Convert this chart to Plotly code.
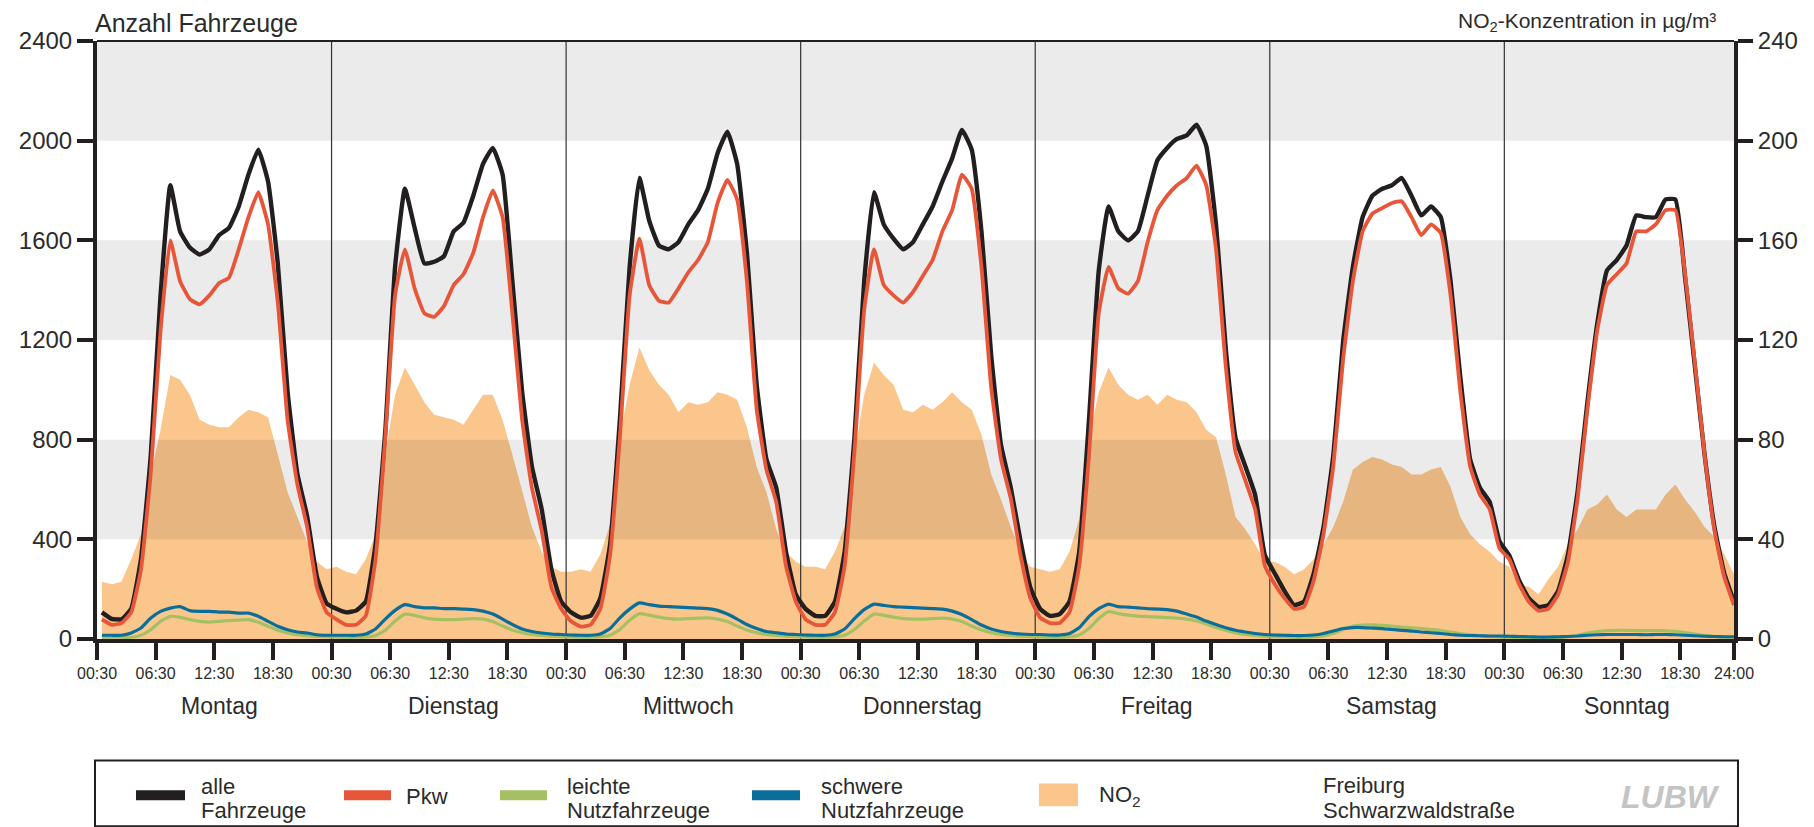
import plotly.graph_objects as go

# ---------------- data (hourly values, 01:00 ... 24:00 per day) ----------------
days = ["Montag", "Dienstag", "Mittwoch", "Donnerstag", "Freitag", "Samstag", "Sonntag"]
hours = list(range(1, 25))
tick_times = ["00:30", "06:30", "12:30", "18:30"]
tick_offsets = [0.5, 6.5, 12.5, 18.5]
end_label = "24:00"

alle = [
    [107, 81, 79, 121, 321, 736, 1379, 1821, 1636, 1571, 1543, 1564, 1621, 1650, 1736, 1864, 1964, 1836, 1507, 993, 664, 493, 250, 143],
    [121, 107, 114, 150, 379, 836, 1493, 1807, 1650, 1507, 1514, 1536, 1636, 1671, 1779, 1907, 1971, 1864, 1436, 993, 693, 521, 279, 150],
    [107, 86, 93, 164, 379, 879, 1493, 1850, 1679, 1579, 1564, 1593, 1664, 1721, 1807, 1950, 2036, 1907, 1550, 1021, 721, 607, 350, 179],
    [121, 93, 93, 150, 350, 807, 1436, 1793, 1664, 1607, 1564, 1593, 1664, 1736, 1836, 1929, 2043, 1964, 1636, 1136, 779, 607, 393, 207],
    [121, 93, 100, 150, 350, 879, 1479, 1736, 1636, 1600, 1636, 1779, 1921, 1971, 2007, 2021, 2064, 1979, 1664, 1164, 807, 693, 579, 336],
    [264, 193, 136, 150, 264, 450, 736, 1193, 1493, 1693, 1779, 1807, 1821, 1850, 1779, 1700, 1736, 1693, 1436, 1050, 721, 607, 550, 393],
    [336, 236, 164, 129, 136, 193, 336, 593, 950, 1264, 1479, 1521, 1579, 1700, 1693, 1693, 1764, 1764, 1450, 1093, 736, 450, 264, 150],
]
pkw = [
    [79, 57, 64, 107, 279, 664, 1236, 1600, 1436, 1364, 1343, 1379, 1429, 1450, 1564, 1693, 1793, 1664, 1350, 879, 621, 450, 207, 107],
    [79, 57, 57, 93, 321, 807, 1379, 1564, 1407, 1307, 1293, 1336, 1421, 1464, 1550, 1693, 1800, 1693, 1307, 879, 607, 436, 207, 121],
    [71, 50, 57, 121, 336, 807, 1379, 1607, 1421, 1357, 1350, 1407, 1471, 1521, 1593, 1750, 1843, 1764, 1436, 921, 679, 550, 293, 150],
    [79, 57, 57, 107, 293, 750, 1321, 1564, 1421, 1379, 1350, 1393, 1457, 1521, 1636, 1721, 1864, 1807, 1493, 1007, 721, 564, 336, 164],
    [86, 64, 64, 107, 293, 736, 1307, 1493, 1407, 1386, 1436, 1593, 1721, 1779, 1821, 1850, 1900, 1821, 1564, 1093, 750, 636, 521, 293],
    [221, 164, 121, 129, 236, 421, 693, 1121, 1436, 1636, 1707, 1729, 1750, 1757, 1693, 1621, 1664, 1629, 1379, 993, 693, 579, 521, 364],
    [321, 221, 150, 114, 121, 179, 307, 564, 921, 1236, 1421, 1464, 1507, 1636, 1636, 1664, 1721, 1721, 1464, 1107, 736, 436, 250, 136],
]
leichte_nfz = [
    [7, 7, 7, 7, 15, 37, 71, 91, 87, 78, 71, 68, 71, 74, 76, 78, 67, 51, 35, 24, 17, 13, 11, 9],
    [8, 7, 7, 8, 14, 35, 72, 100, 95, 85, 80, 78, 78, 80, 82, 80, 70, 52, 36, 25, 18, 14, 11, 9],
    [8, 7, 7, 9, 15, 38, 75, 102, 96, 88, 82, 80, 82, 84, 85, 80, 70, 52, 36, 25, 18, 14, 11, 9],
    [8, 7, 7, 9, 15, 38, 72, 100, 95, 88, 82, 80, 80, 82, 84, 80, 70, 52, 36, 25, 18, 14, 11, 9],
    [8, 7, 7, 9, 16, 42, 82, 110, 102, 96, 92, 90, 88, 86, 84, 80, 72, 60, 46, 34, 24, 18, 14, 10],
    [9, 8, 7, 7, 8, 12, 22, 38, 52, 56, 57, 55, 52, 48, 45, 42, 38, 34, 28, 22, 17, 13, 10, 8],
    [7, 6, 6, 5, 5, 6, 9, 15, 24, 30, 34, 35, 35, 34, 34, 34, 33, 31, 26, 20, 14, 10, 8, 7],
]
schwere_nfz = [
    [15, 15, 15, 24, 44, 84, 111, 124, 130, 114, 111, 111, 108, 108, 104, 104, 91, 71, 51, 37, 28, 24, 17, 15],
    [15, 15, 15, 20, 40, 80, 115, 138, 130, 125, 125, 122, 122, 120, 118, 112, 100, 80, 58, 40, 30, 24, 20, 18],
    [16, 15, 15, 20, 42, 85, 120, 145, 138, 132, 130, 128, 126, 124, 122, 115, 100, 80, 58, 42, 30, 25, 20, 18],
    [16, 15, 15, 20, 40, 82, 118, 140, 135, 130, 128, 126, 124, 122, 120, 112, 98, 78, 56, 40, 30, 24, 20, 18],
    [18, 16, 16, 22, 45, 90, 122, 140, 130, 128, 125, 122, 120, 118, 112, 100, 88, 72, 58, 45, 35, 28, 22, 18],
    [16, 15, 14, 14, 16, 22, 32, 42, 46, 46, 44, 42, 38, 35, 32, 28, 25, 22, 18, 15, 14, 13, 12, 12],
    [11, 10, 9, 8, 8, 9, 10, 12, 15, 17, 18, 18, 18, 18, 17, 18, 18, 17, 15, 13, 11, 10, 9, 9],
]
no2 = [
    [23, 22, 23, 32, 42, 66, 84, 106, 104, 98, 88, 86, 85, 85, 89, 92, 91, 89, 74, 59, 49, 39, 31, 28],
    [29, 27, 26, 32, 42, 74, 98, 109, 102, 95, 90, 89, 88, 86, 92, 98, 98, 88, 74, 59, 45, 35, 29, 27],
    [27, 28, 27, 34, 46, 81, 102, 117, 108, 102, 98, 91, 95, 94, 95, 99, 98, 96, 85, 69, 59, 44, 35, 31],
    [29, 29, 28, 35, 45, 74, 98, 111, 106, 102, 92, 91, 94, 92, 95, 99, 95, 92, 82, 66, 56, 45, 35, 29],
    [28, 27, 28, 35, 48, 81, 99, 109, 102, 98, 96, 98, 94, 98, 96, 95, 91, 84, 81, 66, 49, 44, 38, 31],
    [31, 29, 26, 28, 32, 38, 45, 55, 68, 71, 73, 72, 70, 69, 66, 66, 68, 69, 61, 49, 42, 38, 35, 31],
    [29, 22, 21, 18, 24, 29, 38, 44, 52, 54, 58, 52, 49, 52, 52, 52, 58, 62, 56, 51, 45, 41, 34, 26],
]

left_ticks = [0, 400, 800, 1200, 1600, 2000, 2400]
right_ticks = [0, 40, 80, 120, 160, 200, 240]
gray_bands_no2 = [(40, 80), (120, 160), (200, 240)]

# ---------------- helpers ----------------
def flat(series):
    return [v for day in series for v in day]

x = [d * 24 + h for d in range(len(days)) for h in hours]
x_start, x_end = tick_offsets[0], len(days) * 24

BLACK = "#231F20"
RED = "#E8563A"
GREEN = "#A5C063"
BLUE = "#0A6E9B"
ORANGE = "#FBC68B"
TXT = "#2B2B2B"
FONT = "Liberation Sans, Arial, sans-serif"
NARROW = "Liberation Sans Narrow, Liberation Sans, Arial, sans-serif"

W, H = 1814, 827
OFF = 8                         # page body margin
L, R, T, B = 89, 1726, 32.5, 630.6   # plot area in figure pixels
def px(page_x):
    return (page_x - OFF - L) / (R - L)
def py(page_y):
    return (B - (page_y - OFF)) / (B - T)

fig = go.Figure()

# NO2 area on the primary (right) axis
fig.add_trace(go.Scatter(x=x, y=flat(no2), mode="lines", fill="tozeroy",
                         fillcolor=ORANGE, line=dict(width=0, color=ORANGE),
                         xaxis="x", yaxis="y", showlegend=False, hoverinfo="skip"))
# grey bands drawn as a darkening overlay (NO2 area appears multiplied)
for lo, hi in gray_bands_no2:
    fig.add_trace(go.Scatter(x=[x_start, x_end, x_end, x_start, x_start],
                             y=[lo, lo, hi, hi, lo], mode="lines", fill="toself",
                             fillcolor="rgba(0,0,0,0.078)", line=dict(width=0),
                             xaxis="x", yaxis="y", showlegend=False, hoverinfo="skip"))
# day separators
sx, sy = [], []
for d in range(1, len(days)):
    sx += [d * 24 + tick_offsets[0]] * 2 + [None]
    sy += [0, 240, None]
fig.add_trace(go.Scatter(x=sx, y=sy, mode="lines", line=dict(width=1.2, color="#333333"),
                         xaxis="x", yaxis="y", showlegend=False, hoverinfo="skip"))

# vehicle lines on the overlaying (left) axis
for series, col, w in [(leichte_nfz, GREEN, 3.2), (schwere_nfz, BLUE, 3.2),
                       (alle, BLACK, 4.4), (pkw, RED, 3.8)]:
    fig.add_trace(go.Scatter(x=x, y=flat(series), mode="lines",
                             line=dict(color=col, width=w, shape="spline", smoothing=0.4),
                             xaxis="x", yaxis="y2", showlegend=False))

tickvals = [d * 24 + o for d in range(len(days)) for o in tick_offsets] + [x_end]
ticktext = tick_times * len(days) + [end_label]

axis_common = dict(showgrid=False, zeroline=False, showline=True, linecolor=BLACK,
                   linewidth=4, ticks="outside", tickcolor=BLACK, tickwidth=4)

fig.update_layout(
    width=W, height=H,
    margin=dict(l=L, r=W - R, t=T, b=H - B),
    paper_bgcolor="white", plot_bgcolor="white",
    showlegend=False,
    xaxis=dict(range=[x_start, x_end], tickvals=tickvals, ticktext=ticktext,
               ticklen=17, tickfont=dict(family=NARROW, size=16, color=TXT), **axis_common),
    yaxis=dict(range=[0, 240], tickvals=right_ticks, side="right", ticklen=15,
               tickfont=dict(family=FONT, size=24, color=TXT), **axis_common),
    yaxis2=dict(range=[0, 2400], tickvals=left_ticks, side="left", overlaying="y",
                ticklen=16, tickfont=dict(family=FONT, size=24, color=TXT), **axis_common),
)

shapes = [
    dict(type="line", xref="paper", yref="paper", x0=0, x1=1, y0=1, y1=1,
         line=dict(color=BLACK, width=2), layer="above"),
    dict(type="rect", xref="paper", yref="paper", x0=px(95), x1=px(1738), y0=py(760), y1=py(826),
         line=dict(color=BLACK, width=2), fillcolor="white"),
]
annotations = [
    dict(text="Anzahl Fahrzeuge", xref="paper", yref="paper", x=px(94), y=py(22),
         xanchor="left", yanchor="middle", showarrow=False, borderpad=0,
         font=dict(family=FONT, size=25, color=TXT)),
    dict(text="NO<sub>2</sub>-Konzentration in µg/m³", xref="paper", yref="paper", x=px(1717), y=py(21),
         xanchor="right", yanchor="middle", showarrow=False, borderpad=0,
         font=dict(family=FONT, size=21, color=TXT)),
]
for d, name in enumerate(days):
    annotations.append(dict(text=name, xref="x", yref="paper", x=d * 24 + 13, y=py(706),
                            xanchor="center", yanchor="middle", showarrow=False,
                            font=dict(family=FONT, size=23, color=TXT)))

legend_items = [
    ("line", BLACK, 136, 185, ["alle", "Fahrzeuge"], 199),
    ("line", RED, 344, 391, ["Pkw"], 404),
    ("line", GREEN, 500, 547, ["leichte", "Nutzfahrzeuge"], 565),
    ("line", BLUE, 752, 800, ["schwere", "Nutzfahrzeuge"], 819),
    ("rect", ORANGE, 1039, 1078, ["NO<sub>2</sub>"], 1097),
]
for kind, col, a, b, lines, tx in legend_items:
    if kind == "line":
        shapes.append(dict(type="line", xref="paper", yref="paper", x0=px(a), x1=px(b),
                           y0=py(795), y1=py(795), line=dict(color=col, width=10)))
    else:
        shapes.append(dict(type="rect", xref="paper", yref="paper", x0=px(a), x1=px(b),
                           y0=py(806), y1=py(783), line=dict(width=0), fillcolor=col))
    ys = [796] if len(lines) == 1 else [786, 810]
    for txt, yy in zip(lines, ys):
        annotations.append(dict(text=txt, xref="paper", yref="paper", x=px(tx), y=py(yy),
                                xanchor="left", yanchor="middle", showarrow=False,
                                font=dict(family=FONT, size=22, color=TXT)))
for txt, yy in zip(["Freiburg", "Schwarzwaldstraße"], [785, 810]):
    annotations.append(dict(text=txt, xref="paper", yref="paper", x=px(1321), y=py(yy),
                            xanchor="left", yanchor="middle", showarrow=False,
                            font=dict(family=FONT, size=22, color=TXT)))
annotations.append(dict(text="<b><i>LUBW</i></b>", xref="paper", yref="paper",
                        x=px(1670), y=py(797), xanchor="center", yanchor="middle",
                        showarrow=False, font=dict(family=FONT, size=32, color="#C4C4C4")))

fig.update_layout(shapes=shapes, annotations=annotations)
fig.write_html("out.html")
